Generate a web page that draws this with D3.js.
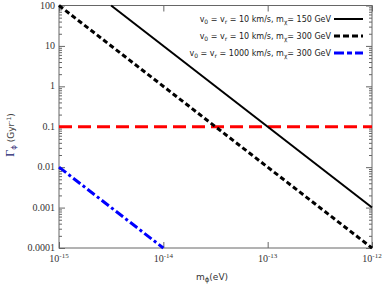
<!DOCTYPE html>
<html>
<head>
<meta charset="utf-8">
<script src="https://cdn.jsdelivr.net/npm/d3@7"></script>
<style>
body { margin: 0; background: #fff; }
svg { display: block; }
</style>
</head>
<body>
<svg id="chart"></svg>
<script>
// courbes : masse m_phi (eV) -> taux Gamma_phi (Gyr^-1)
var solid150 = [[3.16e-15, 100], [1e-12, 0.001]];
var dotted300 = [[1e-15, 100], [1e-12, 0.0001]];
var blue1000 = [[1e-15, 0.01], [1e-14, 0.0001]];
var redLevel = [[1e-15, 0.1], [1e-12, 0.1]];

var xTicks = [1e-15, 1e-14, 1e-13, 1e-12];
var xTickExp = ["-15", "-14", "-13", "-12"];
var yTicks = [100, 10, 1, 0.1, 0.01, 0.001, 0.0001];
var yTickLabels = ["100", "10", "1", "0.1", "0.01", "0.001", "0.0001"];

var legendLabels = [
	["v", "0", " = v", "r", " = 10 km/s, m", "χ", "= 150 GeV"],
	["v", "0", " = v", "r", " = 10 km/s, m", "χ", "= 300 GeV"],
	["v", "0", " = v", "r", " = 1000 km/s, m", "χ", "= 300 GeV"]
];

var W = 390, H = 287;
// attention : "top" est réservé (window.top)
var pLeft = 59, pRight = 372, pTop = 5.5, pBottom = 248;

var svg = d3.select("#chart").attr("width", W).attr("height", H);

var x = d3.scaleLog().domain([1e-15, 1e-12]).range([pLeft, pRight]);
var y = d3.scaleLog().domain([1e-4, 100]).range([pBottom, pTop]);

var axisColor = "#666";
var serif = "'Liberation Serif', 'DejaVu Serif', serif";

function cleanAxis(g) {
	g.select(".domain").remove();
	g.selectAll("line").attr("stroke", axisColor);
}

// petites graduations en y (gauche + droite)
var minorY = [];
for (var e = -4; e < 2; e++) {
	for (var k = 2; k <= 9; k++) minorY.push(k * Math.pow(10, e));
}

svg.append("g")
	.attr("transform", "translate(" + pLeft + ",0)")
	.call(d3.axisRight(y).tickValues(minorY).tickSize(3).tickFormat(""))
	.call(cleanAxis);
svg.append("g")
	.attr("transform", "translate(" + pRight + ",0)")
	.call(d3.axisLeft(y).tickValues(minorY).tickSize(3).tickFormat(""))
	.call(cleanAxis);

// grandes graduations y
svg.append("g")
	.attr("transform", "translate(" + pLeft + ",0)")
	.call(d3.axisRight(y).tickValues(yTicks).tickSize(6).tickFormat(""))
	.call(cleanAxis);
svg.append("g")
	.attr("transform", "translate(" + pRight + ",0)")
	.call(d3.axisLeft(y).tickValues(yTicks).tickSize(6).tickFormat(""))
	.call(cleanAxis);

// graduations x bas + haut
svg.append("g")
	.attr("transform", "translate(0," + pBottom + ")")
	.call(d3.axisTop(x).tickValues(xTicks).tickSize(6).tickFormat(""))
	.call(cleanAxis);
svg.append("g")
	.attr("transform", "translate(0," + pTop + ")")
	.call(d3.axisBottom(x).tickValues(xTicks).tickSize(6).tickFormat(""))
	.call(cleanAxis);

// cadre
svg.append("rect")
	.attr("x", pLeft).attr("y", pTop)
	.attr("width", pRight - pLeft).attr("height", pBottom - pTop)
	.attr("fill", "none").attr("stroke", axisColor).attr("stroke-width", 1);

// labels y
svg.selectAll("text.ylab")
	.data(yTicks)
	.enter()
	.append("text")
	.attr("class", "ylab")
	.attr("x", pLeft - 4)
	.attr("y", function(d) { return y(d) + 3; })
	.attr("text-anchor", "end")
	.style("font-family", serif)
	.style("font-size", "10px")
	.attr("fill", "#333")
	.text(function(d, i) { return yTickLabels[i]; });

// labels x (10^exp)
var xl = svg.selectAll("text.xlab")
	.data(xTicks)
	.enter()
	.append("text")
	.attr("class", "xlab")
	.attr("x", function(d) { return x(d); })
	.attr("y", pBottom + 14)
	.attr("text-anchor", "middle")
	.style("font-family", serif)
	.style("font-size", "10px")
	.attr("fill", "#333");
xl.append("tspan").text("10");
xl.append("tspan").attr("dy", -4).style("font-size", "7px").text(function(d, i) { return xTickExp[i]; });

// titre axe x
var xt = svg.append("text")
	.attr("x", 212).attr("y", 280)
	.attr("text-anchor", "middle")
	.style("font-family", "'DejaVu Sans', sans-serif")
	.style("font-size", "9px")
	.attr("fill", "#333");
xt.append("tspan").text("m");
xt.append("tspan").attr("dy", 2).style("font-size", "7px").text("ϕ");
xt.append("tspan").attr("dy", -2).text("(eV)");

// titre axe y
var yt = svg.append("text")
	.attr("transform", "translate(14,135) rotate(-90)")
	.attr("text-anchor", "middle")
	.style("font-family", "'DejaVu Sans', sans-serif")
	.style("font-size", "9px")
	.attr("fill", "#444");
yt.append("tspan").style("font-family", serif).style("font-size", "12px").attr("fill", "#1a1a70").text("Γ");
yt.append("tspan").attr("dy", 2).style("font-size", "7px").attr("fill", "#1a1a70").text("ϕ");
yt.append("tspan").attr("dy", -2).text("  (Gyr");
yt.append("tspan").attr("dy", -3).style("font-size", "6px").text("-1");
yt.append("tspan").attr("dy", 3).text(")");

// courbes
var line = d3.line()
	.x(function(d) { return x(d[0]); })
	.y(function(d) { return y(d[1]); });

var plot = svg.append("g");

plot.append("path").datum(redLevel)
	.attr("d", line).attr("fill", "none")
	.attr("stroke", "#ff0000").attr("stroke-width", 3)
	.attr("stroke-dasharray", "13,6");

plot.append("path").datum(solid150)
	.attr("d", line).attr("fill", "none")
	.attr("stroke", "#000").attr("stroke-width", 2);

plot.append("path").datum(dotted300)
	.attr("d", line).attr("fill", "none")
	.attr("stroke", "#000").attr("stroke-width", 3)
	.attr("stroke-dasharray", "5,3");

plot.append("path").datum(blue1000)
	.attr("d", line).attr("fill", "none")
	.attr("stroke", "#0000ff").attr("stroke-width", 3)
	.attr("stroke-dasharray", "9,3,3,3");

// légende
var legendStyles = [
	{ stroke: "#000", width: 2, dash: null },
	{ stroke: "#000", width: 3, dash: "6,3" },
	{ stroke: "#0000ff", width: 3, dash: "10,3,5,3" }
];
var legendY = [19, 36, 53];

legendLabels.forEach(function(parts, i) {
	var t = svg.append("text")
		.attr("x", 331).attr("y", legendY[i] + 3)
		.attr("text-anchor", "end")
		.style("font-family", "'DejaVu Sans', sans-serif")
		.style("font-size", "8px")
		.attr("fill", "#222");
	parts.forEach(function(p, j) {
		var ts = t.append("tspan").text(p);
		if (j == 1 || j == 3 || j == 5) ts.attr("dy", 2).style("font-size", "6px");
		if (j == 2 || j == 4 || j == 6) ts.attr("dy", -2);
	});
	svg.append("line")
		.attr("x1", 334).attr("y1", legendY[i])
		.attr("x2", 363).attr("y2", legendY[i])
		.attr("stroke", legendStyles[i].stroke)
		.attr("stroke-width", legendStyles[i].width)
		.attr("stroke-dasharray", legendStyles[i].dash);
});
</script>
</body>
</html>
